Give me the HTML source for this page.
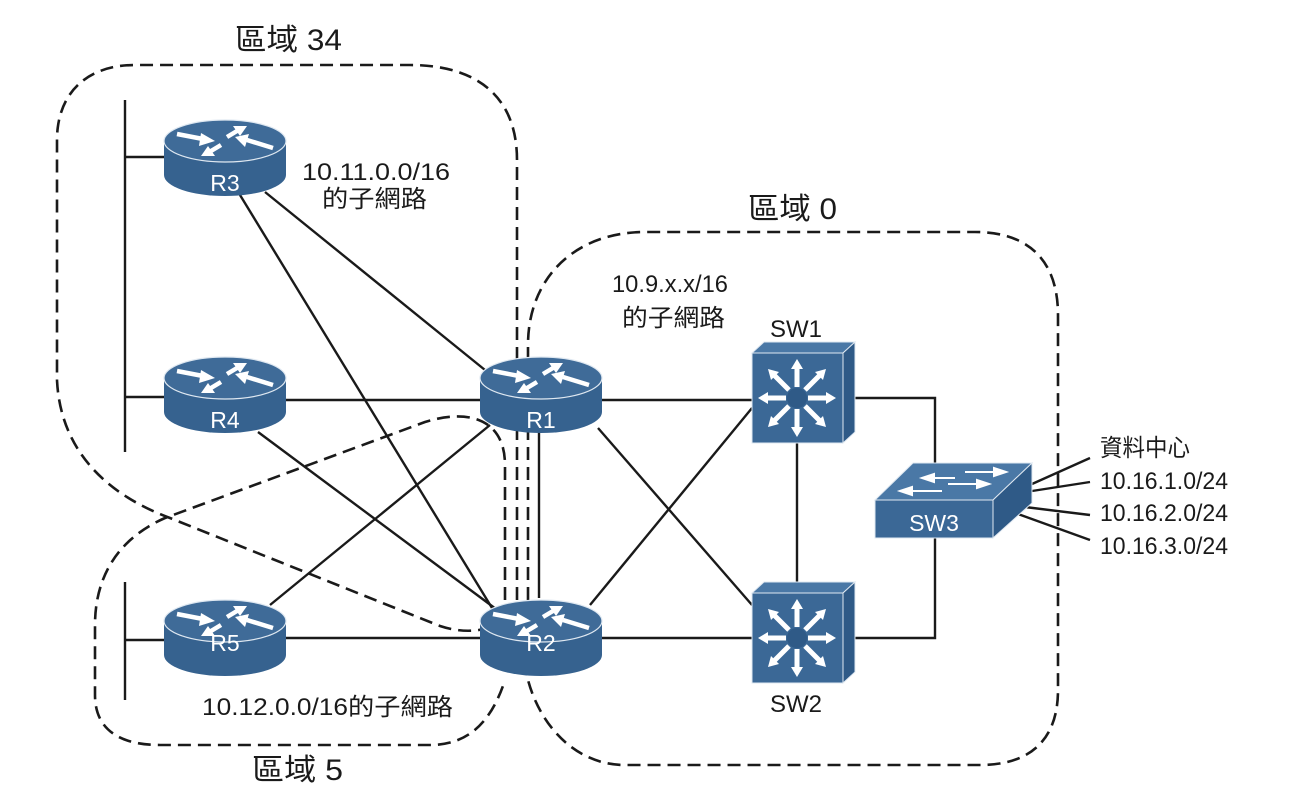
<!DOCTYPE html>
<html><head><meta charset="utf-8"><style>
html,body{margin:0;padding:0;background:#fff;}
svg{display:block;font-family:"Liberation Sans","Noto Sans CJK TC",sans-serif;}
</style></head><body>
<svg width="1310" height="806" viewBox="0 0 1310 806" xmlns="http://www.w3.org/2000/svg">
<defs>
<g id="rt">
 <path d="M-61,0 L-61,34 A61,21 0 0 0 61,34 L61,0 Z" fill="#36628f"/>
 <ellipse cx="0" cy="0" rx="61" ry="21" fill="#3f6b98" stroke="#dfe8f1" stroke-width="1.2"/>
 <g stroke="#fff" stroke-width="4.5" fill="none" stroke-linecap="butt">
  <line x1="-48" y1="-7" x2="-22" y2="-2"/>
  <line x1="2" y1="-4" x2="12" y2="-10"/>
  <line x1="48" y1="7" x2="22" y2="-1"/>
  <line x1="-4" y1="4" x2="-14" y2="10"/>
 </g>
 <g fill="#fff">
  <polygon points="-10,0 -24,-8 -26,5"/>
  <polygon points="22,-15 8,-15 15,-5"/>
  <polygon points="10,-4 24,-7 20,6"/>
  <polygon points="-24,15 -10,15 -17,5"/>
 </g>
</g>
<g id="sw">
 <polygon points="0,0 12,-11 103,-11 91,0" fill="#4a78a6" stroke="#dfe8f1" stroke-width="1"/>
 <polygon points="91,0 103,-11 103,79 91,90" fill="#2f5a87" stroke="#dfe8f1" stroke-width="1"/>
 <rect x="0" y="0" width="91" height="90" fill="#3b6896" stroke="#dfe8f1" stroke-width="1"/>
 <circle cx="45" cy="45" r="10" fill="#2f5a87"/>
 <g stroke="#fff" stroke-width="5" fill="none">
  <line x1="45" y1="34" x2="45" y2="14"/><line x1="45" y1="56" x2="45" y2="76"/>
  <line x1="34" y1="45" x2="14" y2="45"/><line x1="56" y1="45" x2="76" y2="45"/>
  <line x1="37" y1="37" x2="22" y2="22"/><line x1="53" y1="37" x2="68" y2="22"/>
  <line x1="37" y1="53" x2="22" y2="68"/><line x1="53" y1="53" x2="68" y2="68"/>
 </g>
 <g fill="#fff">
  <polygon points="45,6 39,16 51,16"/><polygon points="45,84 39,74 51,74"/>
  <polygon points="6,45 16,39 16,51"/><polygon points="84,45 74,39 74,51"/>
  <polygon points="16,16 27,19 19,27"/><polygon points="74,16 63,19 71,27"/>
  <polygon points="16,74 27,71 19,63"/><polygon points="74,74 63,71 71,63"/>
 </g>
</g>
</defs>

<g fill="none" stroke="#1a1a1a" stroke-width="2.6" stroke-dasharray="13,7">
 <path d="M517,620 L517,160 C517,95 475,65 410,65 L135,65 C85,65 57,95 57,140 L57,380 C60,445 100,492 170,518 L440,626 C470,636 500,630 517,610"/>
 <path d="M505,600 L505,465 C505,420 470,408 425,422 L165,518 C115,540 95,580 95,625 L95,695 C95,730 120,745 160,745 L430,745 C470,745 492,720 505,680"/>
 <path d="M528,620 L528,345 C528,278 575,232 645,232 L975,232 C1030,232 1058,262 1058,315 L1058,690 C1058,740 1030,765 980,765 L625,765 C575,765 540,725 528,680"/>
</g>

<g stroke="#1a1a1a" stroke-width="2.4" fill="none">
 <line x1="125" y1="100" x2="125" y2="452"/>
 <line x1="125" y1="157" x2="165" y2="157"/>
 <line x1="125" y1="397" x2="165" y2="397"/>
 <line x1="125" y1="582" x2="125" y2="700"/>
 <line x1="125" y1="640" x2="165" y2="640"/>
 <line x1="265" y1="192" x2="485" y2="370"/>
 <line x1="240" y1="195" x2="492" y2="608"/>
 <line x1="285" y1="400" x2="480" y2="400"/>
 <line x1="258" y1="432" x2="500" y2="612"/>
 <line x1="270" y1="605" x2="490" y2="425"/>
 <line x1="285" y1="638" x2="480" y2="638"/>
 <line x1="539" y1="432" x2="539" y2="598"/>
 <line x1="602" y1="400" x2="752" y2="400"/>
 <line x1="598" y1="428" x2="752" y2="605"/>
 <line x1="590" y1="605" x2="752" y2="408"/>
 <line x1="602" y1="638" x2="752" y2="638"/>
 <line x1="797" y1="443" x2="797" y2="593"/>
 <polyline points="855,398 935,398 935,470"/>
 <polyline points="855,638 935,638 935,538"/>
 <line x1="1032" y1="484" x2="1090" y2="458"/>
 <line x1="1032" y1="491" x2="1090" y2="482"/>
 <line x1="1025" y1="507" x2="1090" y2="515"/>
 <line x1="1018" y1="514" x2="1090" y2="540"/>
</g>

<use href="#rt" x="225" y="141"/>
<use href="#rt" x="225" y="378"/>
<use href="#rt" x="541" y="378"/>
<use href="#rt" x="225" y="621"/>
<use href="#rt" x="541" y="621"/>
<g fill="#fff" font-size="23" text-anchor="middle">
 <text x="225" y="191">R3</text>
 <text x="225" y="428">R4</text>
 <text x="541" y="428">R1</text>
 <text x="225" y="651">R5</text>
 <text x="541" y="651">R2</text>
</g>

<use href="#sw" x="752" y="353"/>
<use href="#sw" x="752" y="593"/>
<polygon points="875,500 913,463 1032,463 993,500" fill="#4a78a6" stroke="#dfe8f1" stroke-width="1"/>
<polygon points="993,500 1032,463 1032,503 993,538" fill="#2f5a87" stroke="#dfe8f1" stroke-width="1"/>
<rect x="875" y="500" width="118" height="38" fill="#3b6896" stroke="#dfe8f1" stroke-width="1"/>
<g stroke="#fff" stroke-width="2" fill="#fff">
 <line x1="912" y1="491" x2="942" y2="491"/><polygon points="900,491 912,487 912,495"/>
 <line x1="925" y1="478" x2="955" y2="478"/><polygon points="922,478 934,474 934,482"/>
 <line x1="965" y1="472" x2="995" y2="472"/><polygon points="1006,472 994,468 994,476"/>
 <line x1="948" y1="484" x2="978" y2="484"/><polygon points="989,484 977,480 977,488"/>
</g>
<text x="934" y="531" fill="#fff" font-size="23" text-anchor="middle">SW3</text>

<g fill="#1a1a1a" font-size="24" lengthAdjust="spacingAndGlyphs">
 <text x="235" y="50" font-size="30" textLength="107" lengthAdjust="spacingAndGlyphs">區域 34</text>
 <text x="302" y="180" textLength="148" lengthAdjust="spacingAndGlyphs">10.11.0.0/16</text>
 <text x="322" y="207" textLength="105" lengthAdjust="spacingAndGlyphs">的子網路</text>
 <text x="748" y="219" font-size="30" textLength="89" lengthAdjust="spacingAndGlyphs">區域 0</text>
 <text x="612" y="292" textLength="116" lengthAdjust="spacingAndGlyphs">10.9.x.x/16</text>
 <text x="622" y="326" textLength="103" lengthAdjust="spacingAndGlyphs">的子網路</text>
 <text x="770" y="337" textLength="52" lengthAdjust="spacingAndGlyphs">SW1</text>
 <text x="770" y="712" textLength="52" lengthAdjust="spacingAndGlyphs">SW2</text>
 <text x="1100" y="456" textLength="90" lengthAdjust="spacingAndGlyphs">資料中心</text>
 <text x="1100" y="489" textLength="128" lengthAdjust="spacingAndGlyphs">10.16.1.0/24</text>
 <text x="1100" y="521" textLength="128" lengthAdjust="spacingAndGlyphs">10.16.2.0/24</text>
 <text x="1100" y="554" textLength="128" lengthAdjust="spacingAndGlyphs">10.16.3.0/24</text>
 <text x="202" y="715" textLength="251" lengthAdjust="spacingAndGlyphs">10.12.0.0/16的子網路</text>
 <text x="252" y="780" font-size="30" textLength="91" lengthAdjust="spacingAndGlyphs">區域 5</text>
</g>
</svg>
</body></html>
